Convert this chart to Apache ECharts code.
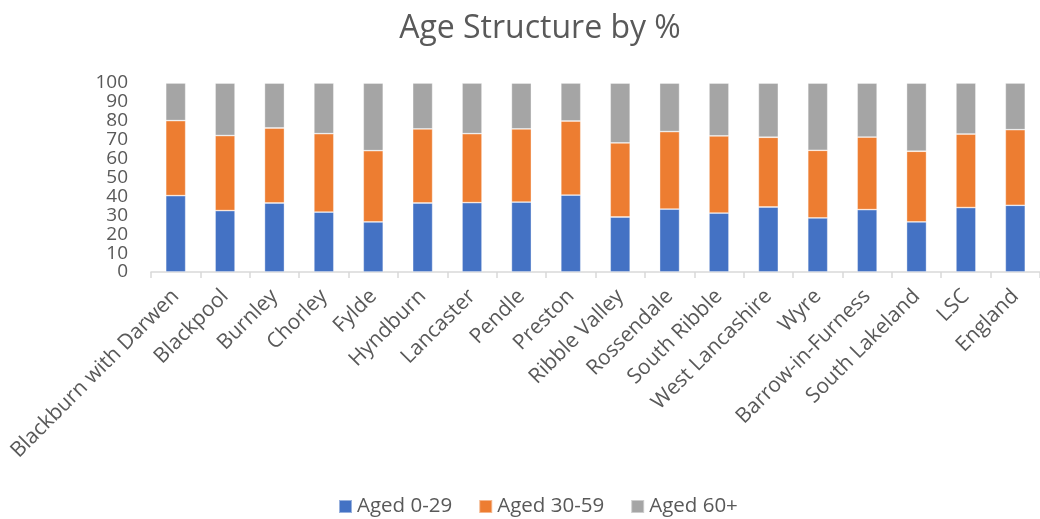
<!DOCTYPE html>
<html>
<head>
<meta charset="utf-8">
<title>Age Structure by %</title>
<script src="https://cdn.jsdelivr.net/npm/echarts@6/dist/echarts.min.js"></script>
<style>
  html, body { margin: 0; padding: 0; background: #ffffff; }
  #chart { width: 1040px; height: 519px; }
</style>
</head>
<body>
<div id="chart"></div>
<script>
// Districts and comparison areas along the x axis
const areas = [
  'Blackburn with Darwen', 'Blackpool', 'Burnley', 'Chorley', 'Fylde',
  'Hyndburn', 'Lancaster', 'Pendle', 'Preston', 'Ribble Valley',
  'Rossendale', 'South Ribble', 'West Lancashire', 'Wyre',
  'Barrow-in-Furness', 'South Lakeland', 'LSC', 'England'
];

// Share of population (%) in each age band
const aged0to29 = [40.4, 32.5, 36.5, 31.7, 26.5, 36.5, 36.7, 37.0, 40.7, 29.1, 33.3, 31.2, 34.4, 28.6, 33.0, 26.5, 34.1, 35.3];
const aged30to59 = [39.7, 39.7, 39.7, 41.5, 37.7, 39.2, 36.5, 38.7, 39.2, 39.2, 41.0, 40.8, 36.9, 35.8, 38.4, 37.4, 38.9, 40.0];
const aged60plus = [19.9, 27.8, 23.8, 26.8, 35.8, 24.3, 26.8, 24.3, 20.1, 31.7, 25.7, 28.0, 28.7, 35.6, 28.6, 36.1, 27.0, 24.7];

const seriesNames = ['Aged 0-29', 'Aged 30-59', 'Aged 60+'];
const seriesColors = ['#4472C4', '#ED7D31', '#A5A5A5'];
const seriesData = [aged0to29, aged30to59, aged60plus];

const textColor = '#595959';
const fontFamily = '"Open Sans", "Noto Sans", sans-serif';

const chart = echarts.init(document.getElementById('chart'));

chart.setOption({
  animation: false,
  textStyle: { fontFamily: fontFamily },
  title: {
    text: 'Age Structure by %',
    left: 535,
    top: 8,
    textAlign: 'center',
    textStyle: { color: textColor, fontSize: 32, fontWeight: 'normal', fontFamily: fontFamily }
  },
  legend: {
    data: seriesNames,
    left: 333,
    bottom: -3,
    icon: 'rect',
    itemWidth: 13,
    itemHeight: 13,
    itemGap: 26,
    textStyle: { color: textColor, fontSize: 20.5, fontFamily: fontFamily }
  },
  grid: {
    left: 151,
    top: 83,
    width: 900,
    height: 189,
    containLabel: false
  },
  xAxis: {
    type: 'category',
    data: areas,
    boundaryGap: true,
    axisLine: { lineStyle: { color: '#D9D9D9', width: 1.5 } },
    axisTick: { show: true, length: 6, lineStyle: { color: '#D9D9D9', width: 1.5 } },
    axisLabel: {
      interval: 0,
      rotate: 45,
      margin: 21,
      color: textColor,
      fontSize: 21,
      fontFamily: fontFamily
    },
    splitLine: { show: false }
  },
  yAxis: {
    type: 'value',
    min: 0,
    max: 100,
    interval: 10,
    axisLine: { show: false },
    axisTick: { show: false },
    splitLine: { show: false },
    axisLabel: {
      margin: 23,
      showMinLabel: true,
      showMaxLabel: true,
      color: textColor,
      fontSize: 19,
      fontFamily: fontFamily
    }
  },
  series: seriesNames.map((name, i) => ({
    name: name,
    type: 'bar',
    stack: 'age',
    barWidth: 20,
    data: seriesData[i],
    itemStyle: {
      color: seriesColors[i],
      borderColor: 'rgba(255,255,255,0.45)',
      borderWidth: 0.8
    }
  }))
});
</script>
</body>
</html>
